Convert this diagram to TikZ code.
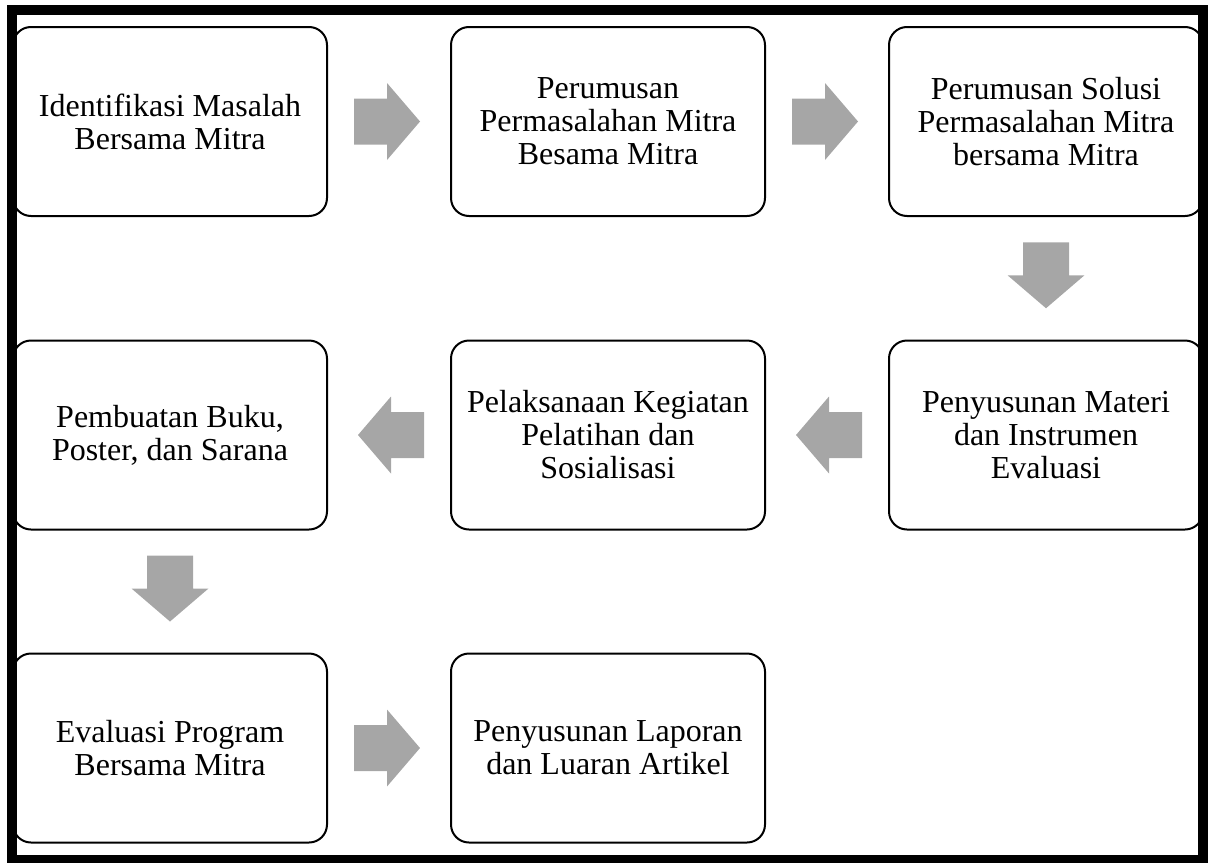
\documentclass[tikz,border=0pt]{standalone}
\usepackage{fontspec}
\setmainfont{Liberation Serif}
\usetikzlibrary{calc}

\definecolor{arrowgray}{RGB}{166,166,166}

\tikzset{
  stepbox/.style={draw, line width=2pt, rounded corners=18pt,
    minimum width=314pt, minimum height=189pt, inner sep=0pt,
    align=center, font=\fontsize{32}{33}\selectfont},
  blockarrow/.pic={
    \fill[arrowgray] (-33,-23) -- (0,-23) -- (0,-38.5) -- (33,0)
      -- (0,38.5) -- (0,23) -- (-33,23) -- cycle;}
}

\begin{document}
\begin{tikzpicture}[x=1pt,y=-1pt]
    \useasboundingbox (0,0) rectangle (1209,862);
    % top row
    \node [stepbox] (identifikasi) at (170,121.5) {Identifikasi Masalah\\Bersama Mitra};
    \node [stepbox] (rumusmasalah) at (608,121.5) {Perumusan\\Permasalahan Mitra\\Besama Mitra};
    \node [stepbox] (rumussolusi) at (1046,121.5) {Perumusan Solusi\\Permasalahan Mitra\\bersama Mitra};
    % middle row
    \node [stepbox] (materi) at (1046,435) {Penyusunan Materi\\dan Instrumen\\Evaluasi};
    \node [stepbox] (pelatihan) at (608,435) {Pelaksanaan Kegiatan\\Pelatihan dan\\Sosialisasi};
    \node [stepbox] (buku) at (170,435) {Pembuatan Buku,\\Poster, dan Sarana};
    % bottom row
    \node [stepbox] (evaluasi) at (170,748) {Evaluasi Program\\Bersama Mitra};
    \node [stepbox] (laporan) at (608,748) {Penyusunan Laporan\\dan Luaran Artikel};

    % arrows
    \pic at ($(identifikasi.east)!0.5!(rumusmasalah.west)+(-2,0)$) {blockarrow};
    \pic at ($(rumusmasalah.east)!0.5!(rumussolusi.west)+(-2,0)$) {blockarrow};
    \pic [rotate=-90] at ($(rumussolusi.south)!0.5!(materi.north)+(0,-3)$) {blockarrow};
    \pic [rotate=180] at ($(materi.west)!0.5!(pelatihan.east)+(2,0)$) {blockarrow};
    \pic [rotate=180] at ($(pelatihan.west)!0.5!(buku.east)+(2,0)$) {blockarrow};
    \pic [rotate=-90] at ($(buku.south)!0.5!(evaluasi.north)+(0,-3)$) {blockarrow};
    \pic at ($(evaluasi.east)!0.5!(laporan.west)+(-2,0)$) {blockarrow};

    % frame
    \draw [line width=10pt] (12,10) rectangle (1203,860);
\end{tikzpicture}
\end{document}
